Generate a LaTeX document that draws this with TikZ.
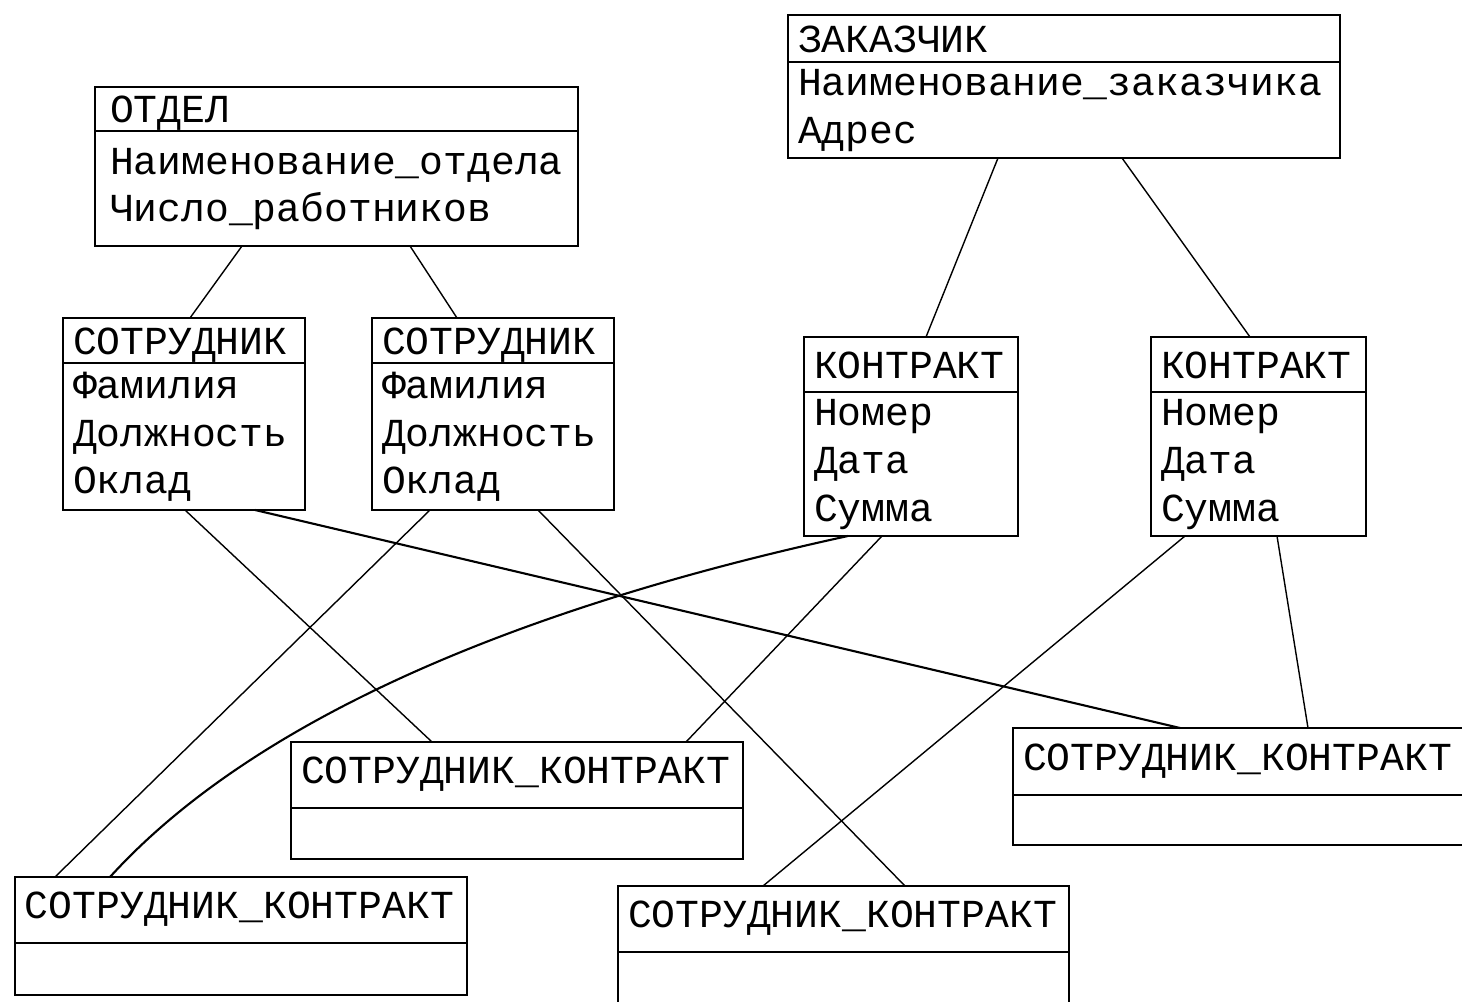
\documentclass[tikz,border=0pt]{standalone}
\usepackage{fontspec}
\usepackage{tikz}
\newfontfamily\ermono{Liberation Mono}
\newcommand{\erfont}{\ermono\fontsize{22.6}{27.2}\selectfont}

\tikzset{
  entity/.style={draw, line width=1pt, font=\erfont, align=left, inner xsep=0.2cm,
    inner ysep=0pt, outer sep=0pt, anchor=north west},
  title/.style={entity, text height=15.5pt, text depth=0pt},
  sktitle/.style={title, text depth=5.6pt},
  attrs/.style={entity, execute at begin node=\strut, execute at end node=\strut},
  link/.style={line width=0.8pt},
  heavy/.style={line width=1.2pt}
}

\begin{document}
\begin{tikzpicture}[x=0.2mm, y=-0.2mm]
\useasboundingbox (0,0) rectangle (1462,1002);

% entities
\node[title, text width=10.64cm, minimum height=0.94cm] (zak) at (788,15) {ЗАКАЗЧИК};
\node[attrs, text width=10.64cm, minimum height=1.92cm] (zak-b) at (zak.south west) {Наименование\_заказчика\\Адрес};

\node[title, inner xsep=0.3cm, text width=9.06cm, minimum height=0.88cm] (otdel) at (95,87) {ОТДЕЛ};
\node[attrs, inner xsep=0.3cm, text width=9.06cm, minimum height=2.3cm] (otdel-b) at (otdel.south west) {Наименование\_отдела\\Число\_работников};

\node[title, text width=4.44cm, minimum height=0.9cm] (sotr1) at (63,318) {СОТРУДНИК};
\node[attrs, text width=4.44cm, minimum height=2.94cm] (sotr1-b) at (sotr1.south west) {Фамилия\\Должность\\Оклад};

\node[title, text width=4.44cm, minimum height=0.9cm] (sotr2) at (372,318) {СОТРУДНИК};
\node[attrs, text width=4.44cm, minimum height=2.94cm] (sotr2-b) at (sotr2.south west) {Фамилия\\Должность\\Оклад};

\node[title, text width=3.88cm, minimum height=1.1cm] (kontr1) at (804,337) {КОНТРАКТ};
\node[attrs, text width=3.88cm, minimum height=2.88cm] (kontr1-b) at (kontr1.south west) {Номер\\Дата\\Сумма};

\node[title, text width=3.9cm, minimum height=1.1cm] (kontr2) at (1151,337) {КОНТРАКТ};
\node[attrs, text width=3.9cm, minimum height=2.88cm] (kontr2-b) at (kontr2.south west) {Номер\\Дата\\Сумма};

\node[sktitle, text width=8.64cm, minimum height=1.32cm] (sk1) at (291,742) {СОТРУДНИК\_КОНТРАКТ};
\node[attrs, text width=8.64cm, minimum height=1.02cm] (sk1-b) at (sk1.south west) {};

\node[sktitle, text width=9.2cm, minimum height=1.34cm] (sk2) at (1013,728) {СОТРУДНИК\_КОНТРАКТ};
\node[attrs, text width=9.2cm, minimum height=1.0cm] (sk2-b) at (sk2.south west) {};

\node[sktitle, text width=8.64cm, minimum height=1.32cm] (sk3) at (15,877) {СОТРУДНИК\_КОНТРАКТ};
\node[attrs, text width=8.64cm, minimum height=1.04cm] (sk3-b) at (sk3.south west) {};

\node[sktitle, text width=8.62cm, minimum height=1.32cm] (sk4) at (618,886) {СОТРУДНИК\_КОНТРАКТ};
\node[attrs, text width=8.62cm, minimum height=1.2cm] (sk4-b) at (sk4.south west) {};

% links
\draw[link] ([xshift=2.94cm]otdel-b.south west) -- ([xshift=2.54cm]sotr1.north west);
\draw[link] ([xshift=6.3cm]otdel-b.south west) -- ([xshift=1.7cm]sotr2.north west);
\draw[link] ([xshift=4.2cm]zak-b.south west) -- ([xshift=2.44cm]kontr1.north west);
\draw[link] ([xshift=6.68cm]zak-b.south west) -- ([xshift=1.98cm]kontr2.north west);

\draw[link] ([xshift=2.44cm]sotr1-b.south west) -- ([xshift=2.82cm]sk1.north west);
\draw[heavy] ([xshift=3.84cm]sotr1-b.south west) -- ([xshift=3.34cm]sk2.north west);
\draw[link] ([xshift=1.16cm]sotr2-b.south west) -- ([xshift=0.8cm]sk3.north west);
\draw[link] ([xshift=3.32cm]sotr2-b.south west) -- ([xshift=5.74cm]sk4.north west);

\draw[heavy] ([xshift=0.88cm]kontr1-b.south west) .. controls +(-248,54) and +(170,-187) .. ([xshift=1.9cm]sk3.north west);
\draw[link] ([xshift=1.56cm]kontr1-b.south west) -- ([xshift=7.9cm]sk1.north west);
\draw[link] ([xshift=0.68cm]kontr2-b.south west) -- ([xshift=2.9cm]sk4.north west);
\draw[link] ([xshift=2.52cm]kontr2-b.south west) -- ([xshift=5.9cm]sk2.north west);

\end{tikzpicture}
\end{document}
